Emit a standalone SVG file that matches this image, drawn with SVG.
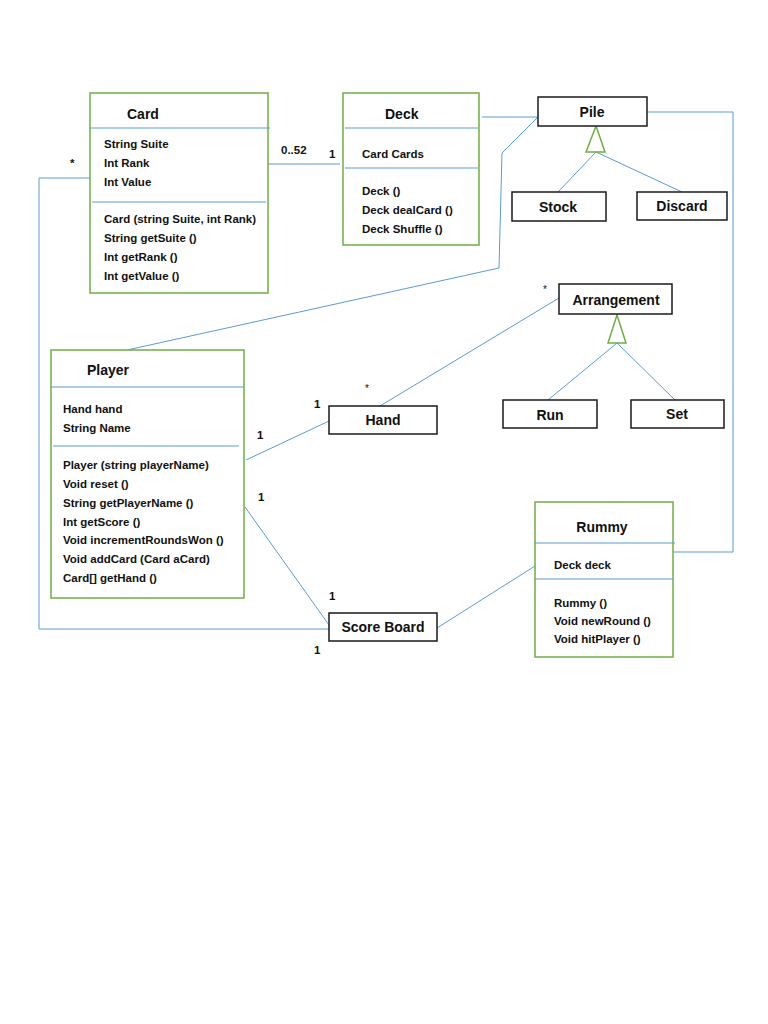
<svg xmlns="http://www.w3.org/2000/svg" width="768" height="1024" viewBox="0 0 768 1024">
<style>
.cls{fill:#fff;stroke:#70AD47;stroke-width:1.5}
.box{fill:#fff;stroke:#1a1a1a;stroke-width:1.5}
.div{stroke:#5B9BD5;stroke-width:1.2}
.con{fill:none;stroke:#5B9BD5;stroke-width:1}
.tri{fill:#fff;stroke:#70AD47;stroke-width:1.5}
text{font-family:"Liberation Sans",Arial,sans-serif;fill:#111}
.t{font-size:14px;font-weight:bold}
.m{font-size:11.5px;font-weight:bold}
.lab{font-size:11.5px;font-weight:bold}
.st{font-size:10px}
</style>
<rect width="768" height="1024" fill="#fff"/>
<g id="connectors">
<line class="con" x1="268" y1="164" x2="340" y2="164"/>
<polyline class="con" points="90,178 39,178 39,629 329,629"/>
<line class="con" x1="482" y1="117" x2="538" y2="117"/>
<polyline class="con" points="538,117 502,153 499,268 127,350"/>
<polyline class="con" points="647,112 733,112 733,552 673,552"/>
<line class="con" x1="596" y1="152" x2="558" y2="192"/>
<line class="con" x1="596" y1="152" x2="682" y2="192"/>
<line class="con" x1="617" y1="343" x2="548" y2="400"/>
<line class="con" x1="617" y1="343" x2="675" y2="400"/>
<line class="con" x1="380" y1="406" x2="559" y2="298"/>
<line class="con" x1="246" y1="460" x2="329" y2="421"/>
<line class="con" x1="245" y1="507" x2="329" y2="625"/>
<line class="con" x1="437" y1="628" x2="535" y2="566"/>
<polygon class="tri" points="596,126 586,152 605,152"/>
<polygon class="tri" points="617,315 608,343 626,343"/>
<text class="lab" x="281" y="154">0..52</text>
<text class="lab" x="329" y="158">1</text>
<text class="lab" x="70" y="167">*</text>
<text class="st" x="543" y="293">*</text>
<text class="st" x="365" y="392">*</text>
<text class="lab" x="314" y="408">1</text>
<text class="lab" x="257" y="439">1</text>
<text class="lab" x="258" y="501">1</text>
<text class="lab" x="329" y="600">1</text>
<text class="lab" x="314" y="654">1</text>
</g>
<g id="card">
<rect class="cls" x="90" y="93" width="178" height="200"/>
<line class="div" x1="90" y1="128" x2="270" y2="128"/>
<line class="div" x1="92" y1="202" x2="266" y2="202"/>
<text class="t" x="127" y="119">Card</text>
<text class="m" x="104" y="148">String Suite</text>
<text class="m" x="104" y="167">Int Rank</text>
<text class="m" x="104" y="186">Int Value</text>
<text class="m" x="104" y="223">Card (string Suite, int Rank)</text>
<text class="m" x="104" y="242">String getSuite ()</text>
<text class="m" x="104" y="261">Int getRank ()</text>
<text class="m" x="104" y="280">Int getValue ()</text>
</g>
<g id="deck">
<rect class="cls" x="343" y="93" width="136" height="152"/>
<line class="div" x1="345" y1="128" x2="478" y2="128"/>
<line class="div" x1="345" y1="168" x2="478" y2="168"/>
<text class="t" x="385" y="119">Deck</text>
<text class="m" x="362" y="158">Card Cards</text>
<text class="m" x="362" y="195">Deck ()</text>
<text class="m" x="362" y="214">Deck dealCard ()</text>
<text class="m" x="362" y="233">Deck Shuffle ()</text>
</g>
<g id="pile">
<rect class="box" x="538" y="97" width="109" height="29"/>
<text class="t" x="592" y="117" text-anchor="middle">Pile</text>
</g>
<g id="stock">
<rect class="box" x="512" y="192" width="94" height="29"/>
<text class="t" x="558" y="212" text-anchor="middle">Stock</text>
</g>
<g id="discard">
<rect class="box" x="637" y="192" width="90" height="28"/>
<text class="t" x="682" y="211" text-anchor="middle">Discard</text>
</g>
<g id="arrangement">
<rect class="box" x="559" y="284" width="113" height="30"/>
<text class="t" x="616" y="305" text-anchor="middle">Arrangement</text>
</g>
<g id="run">
<rect class="box" x="503" y="400" width="94" height="28"/>
<text class="t" x="550" y="420" text-anchor="middle">Run</text>
</g>
<g id="set">
<rect class="box" x="631" y="400" width="93" height="28"/>
<text class="t" x="677" y="419" text-anchor="middle">Set</text>
</g>
<g id="player">
<rect class="cls" x="51" y="350" width="193" height="248"/>
<line class="div" x1="51" y1="387" x2="244" y2="387"/>
<line class="div" x1="53" y1="446" x2="239" y2="446"/>
<text class="t" x="87" y="375">Player</text>
<text class="m" x="63" y="413">Hand hand</text>
<text class="m" x="63" y="432">String Name</text>
<text class="m" x="63" y="469">Player (string playerName)</text>
<text class="m" x="63" y="488">Void reset ()</text>
<text class="m" x="63" y="507">String getPlayerName ()</text>
<text class="m" x="63" y="526">Int getScore ()</text>
<text class="m" x="63" y="544">Void incrementRoundsWon ()</text>
<text class="m" x="63" y="563">Void addCard (Card aCard)</text>
<text class="m" x="63" y="582">Card[] getHand ()</text>
</g>
<g id="hand">
<rect class="box" x="329" y="406" width="108" height="28"/>
<text class="t" x="383" y="425" text-anchor="middle">Hand</text>
</g>
<g id="scoreboard">
<rect class="box" x="329" y="613" width="108" height="28"/>
<text class="t" x="383" y="632" text-anchor="middle">Score Board</text>
</g>
<g id="rummy">
<rect class="cls" x="535" y="502" width="138" height="155"/>
<line class="div" x1="535" y1="543" x2="675" y2="543"/>
<line class="div" x1="535" y1="579" x2="673" y2="579"/>
<text class="t" x="602" y="532" text-anchor="middle">Rummy</text>
<text class="m" x="554" y="569">Deck deck</text>
<text class="m" x="554" y="607">Rummy ()</text>
<text class="m" x="554" y="625">Void newRound ()</text>
<text class="m" x="554" y="643">Void hitPlayer ()</text>
</g>
</svg>
